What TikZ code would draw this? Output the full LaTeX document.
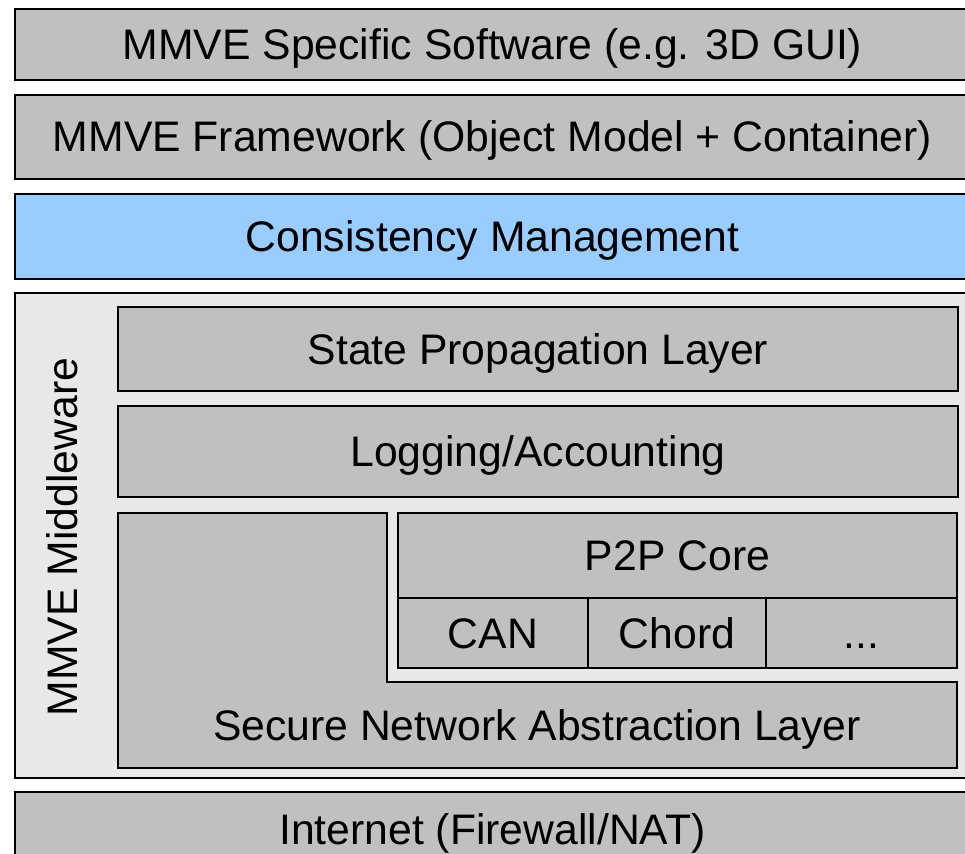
\documentclass[tikz,border=0pt]{standalone}
\usepackage{fontspec}
\setmainfont{Liberation Sans}
\usepackage{tikz}
\usetikzlibrary{positioning}
\usepackage{xcolor}

\definecolor{laygray}{HTML}{C0C0C0}
\definecolor{mwgray}{HTML}{E8E8E8}
\definecolor{cmblue}{HTML}{99CCFF}

\tikzset{
  layerfont/.style={font=\fontsize{42.7}{50}\selectfont, text height=30pt, text depth=0pt},
  layer/.style={draw, rectangle, fill=laygray, line width=2pt, inner sep=0pt, layerfont},
  sublayer/.style={layer, line width=1.6pt},
}

\begin{document}
\begin{tikzpicture}[x=1pt, y=-1pt]
\useasboundingbox (0,0) rectangle (965,853);
\clip (0,0) rectangle (965,853);

% Upper layers
\node[layer, minimum width=955pt, minimum height=71pt] (sw) at (492.5,44.5) {MMVE Specific Software (e.g. 3D GUI)};
\node[layer, minimum width=955pt, minimum height=84pt] (fw) at (492.5,137) {MMVE Framework (Object Model + Container)};
\node[layer, fill=cmblue, minimum width=955pt, minimum height=85pt] (cm) at (492.5,236.5) {Consistency Management};

% Middleware
\node[layer, fill=mwgray, minimum width=955pt, minimum height=485pt] (mw) at (492.5,535.5) {};
\node[rotate=90, font=\fontsize{42.7}{50}\selectfont] (mwlabel) at (62,537) {MMVE Middleware};

\node[sublayer, minimum width=840pt, minimum height=84pt] (sp) at (538,349) {State Propagation Layer};
\node[sublayer, minimum width=840pt, minimum height=91pt] (log) at (538,451.5) {Logging/Accounting};

% Secure network layer (L-shape)
\draw[line width=1.6pt, fill=laygray] (118,513) -- (387,513) -- (387,682) -- (957,682)
  -- (957,768) -- (118,768) -- cycle;
\node[layerfont] (snal) at (537,725) {Secure Network Abstraction Layer};

% P2P core and overlays
\node[sublayer, minimum width=559pt, minimum height=85pt] (p2p) at (677.5,555.5) {P2P Core};
\node[sublayer, minimum width=190pt, minimum height=70pt] (can) at (493,633) {CAN};
\node[sublayer, minimum width=178pt, minimum height=70pt] (chord) at (677,633) {Chord};
\node[sublayer, minimum width=191pt, minimum height=70pt] (more) at (861.5,633) {...};

% Bottom
\node[layer, minimum width=955pt, minimum height=88pt] (net) at (492.5,836) {};
\node[layerfont] (netlabel) at (492.5,829) {Internet (Firewall/NAT)};
\end{tikzpicture}
\end{document}
